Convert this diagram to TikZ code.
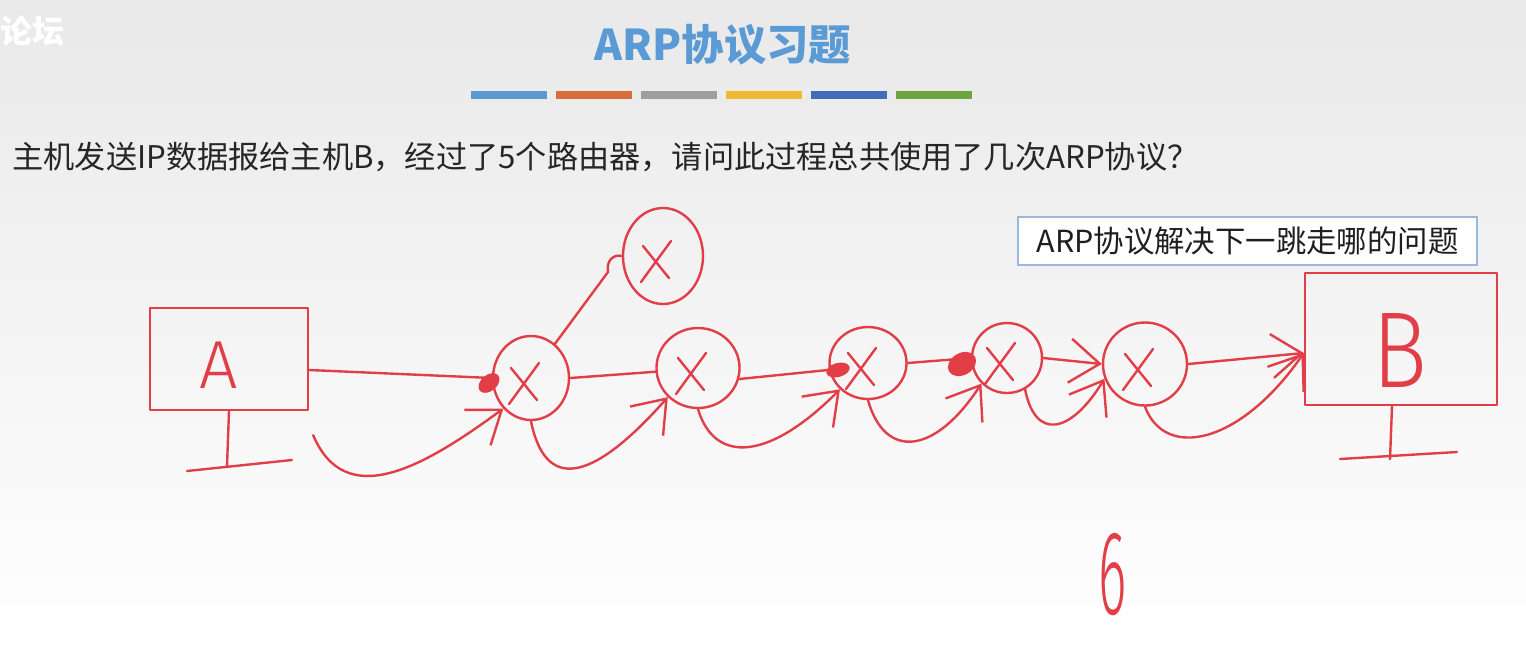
\documentclass[tikz,border=0pt]{standalone}
\usepackage{fontspec}
\setmainfont{Noto Sans CJK SC}
\IfFontExistsTF{Fira Sans Light}{\newfontfamily\handfont{Fira Sans Light}}{\newfontfamily\handfont{Fira Sans}}
\usetikzlibrary{arrows.meta,shapes.geometric}

\definecolor{hred}{RGB}{226,62,72}
\definecolor{titleblue}{RGB}{91,155,213}
\definecolor{boxblue}{RGB}{150,185,220}
\definecolor{bgtop}{RGB}{233,233,233}
\definecolor{barA}{RGB}{90,152,207}
\definecolor{barB}{RGB}{215,110,60}
\definecolor{barC}{RGB}{158,158,158}
\definecolor{barD}{RGB}{240,185,50}
\definecolor{barE}{RGB}{65,110,185}
\definecolor{barF}{RGB}{110,165,65}

\tikzset{
    hand/.style={draw=hred, line width=1.2pt, line cap=round, line join=round},
    router/.style={ellipse, hand, inner sep=0pt},
    screen/.style={rectangle, hand, inner sep=0pt},
    barb/.style={-{Straight Barb[length=15pt,width=22pt]}},
    handtext/.style={text=hred, inner sep=0pt},
}

\begin{document}
\begin{tikzpicture}[x=0.5pt, y=-0.5pt]
    % slide background
    \shade[top color=bgtop, bottom color=white] (0,0) rectangle (1526,650);
    \useasboundingbox (0,0) rectangle (1526,650);

    % header
    \node[text=white, font=\bfseries\fontsize{16}{16}\selectfont] (wm) at (33,31) {论坛};
    \node[text=titleblue, font=\bfseries\fontsize{21.2}{21.2}\selectfont] (title) at (723,45) {ARP协议习题};
    \foreach \c [count=\i from 0] in {barA,barB,barC,barD,barE,barF}
        \fill[\c] ({471+85*\i},91) rectangle ++(76,8);
    \node[anchor=west, inner sep=0pt, text=black!85, font=\fontsize{15.6}{15.6}\selectfont] (question) at (12,157)
        {主机发送IP数据报给主机B，经过了5个路由器，请问此过程总共使用了几次ARP协议？};
    \node[draw=boxblue, fill=white, line width=0.6pt, minimum width=229.5pt, minimum height=24pt,
        text=black!88, font=\fontsize{15.2}{15.2}\selectfont] (hint) at (1247.5,241) {ARP协议解决下一跳走哪的问题};

    % hosts
    \node[screen, minimum width=79pt, minimum height=51pt] (hostA) at (229,359) {};
    \node[screen, minimum width=96pt, minimum height=66pt] (hostB) at (1401,339) {};
    \node[handtext, font=\handfont\fontsize{34}{34}\selectfont] (labelA) at (219,365) {A};
    \node[handtext, font=\handfont\fontsize{54}{54}\selectfont] (labelB) at (1400,350) {\scalebox{0.85}[1]{B}};
    \draw[hand] (hostA.south) -- ++(-2,55);
    \draw[hand] (187,471) -- (292,460);
    \draw[hand] ([xshift=-4.5pt]hostB.south) -- ++(-2,53);
    \draw[hand] (1340,459) -- (1457,452);

    % routers
    \node[router, minimum width=38pt, minimum height=42pt] (r1) at (531,378) {};
    \node[router, minimum width=41.5pt, minimum height=40pt] (r2) at (698,368) {};
    \node[router, minimum width=38.5pt, minimum height=36pt] (r3) at (868,363) {};
    \node[router, minimum width=35pt, minimum height=35pt] (r4) at (1007,358) {};
    \node[router, minimum width=42pt, minimum height=41.5pt] (r5) at (1145,364) {};
    \node[router, minimum width=40pt, minimum height=48pt] (r0) at (663,256) {};
    \foreach \r in {r0,r1,r2,r3,r4,r5} {
        \draw[hand] (\r.center) ++(-20,-10) -- ++(26,32);
        \draw[hand] (\r.center) ++(8,-15) -- ++(-30,41);
    }

    % scribbled entry points
    \fill[hred, rotate around={40:(489,383)}] (489,383) ellipse [x radius=12, y radius=8];
    \fill[hred, rotate around={15:(838,370)}] (838,370) ellipse [x radius=12, y radius=7];
    \fill[hred, rotate around={30:(962,364)}] (962,364) ellipse [x radius=15, y radius=11];

    % hop by hop, straight
    \draw[hand] ([yshift=-5.5pt]hostA.east) -- (r1.west);
    \draw[hand] (r1.east) -- (r2.185);
    \draw[hand] (r2.-15) -- (r3.190);
    \draw[hand] (r3.east) -- (r4.west);
    \draw[hand, barb] (r4.east) -- (r5.west);
    \draw[hand, barb] (r5.east) -- ([yshift=-7pt]hostB.west);
    \draw[hand] (r1.55) -- (608,272) .. controls (606,260) and (614,254) .. (r0.west);

    % hop by hop, curved
    \draw[hand, barb] ([xshift=2pt,yshift=-12pt]hostA.south east) .. controls (345,510) and (420,470) .. (r1.south west);
    \draw[hand, barb] (r1.south) .. controls (545,490) and (590,485) .. (r2.south west);
    \draw[hand, barb] (r2.south) .. controls (715,465) and (770,460) .. (r3.south west);
    \draw[hand, barb] (r3.south) .. controls (885,460) and (935,455) .. (r4.south west);
    \draw[hand, barb] (r4.-60) .. controls (1035,440) and (1070,435) .. (r5.200);
    \draw[hand, barb] (r5.south) .. controls (1165,460) and (1240,445) .. ([yshift=-7pt]hostB.west);

    % answer
    \node[handtext, font=\handfont\fontsize{60}{60}\selectfont] (answer) at (1113,575) {\scalebox{0.45}[1]{6}};
\end{tikzpicture}
\end{document}
